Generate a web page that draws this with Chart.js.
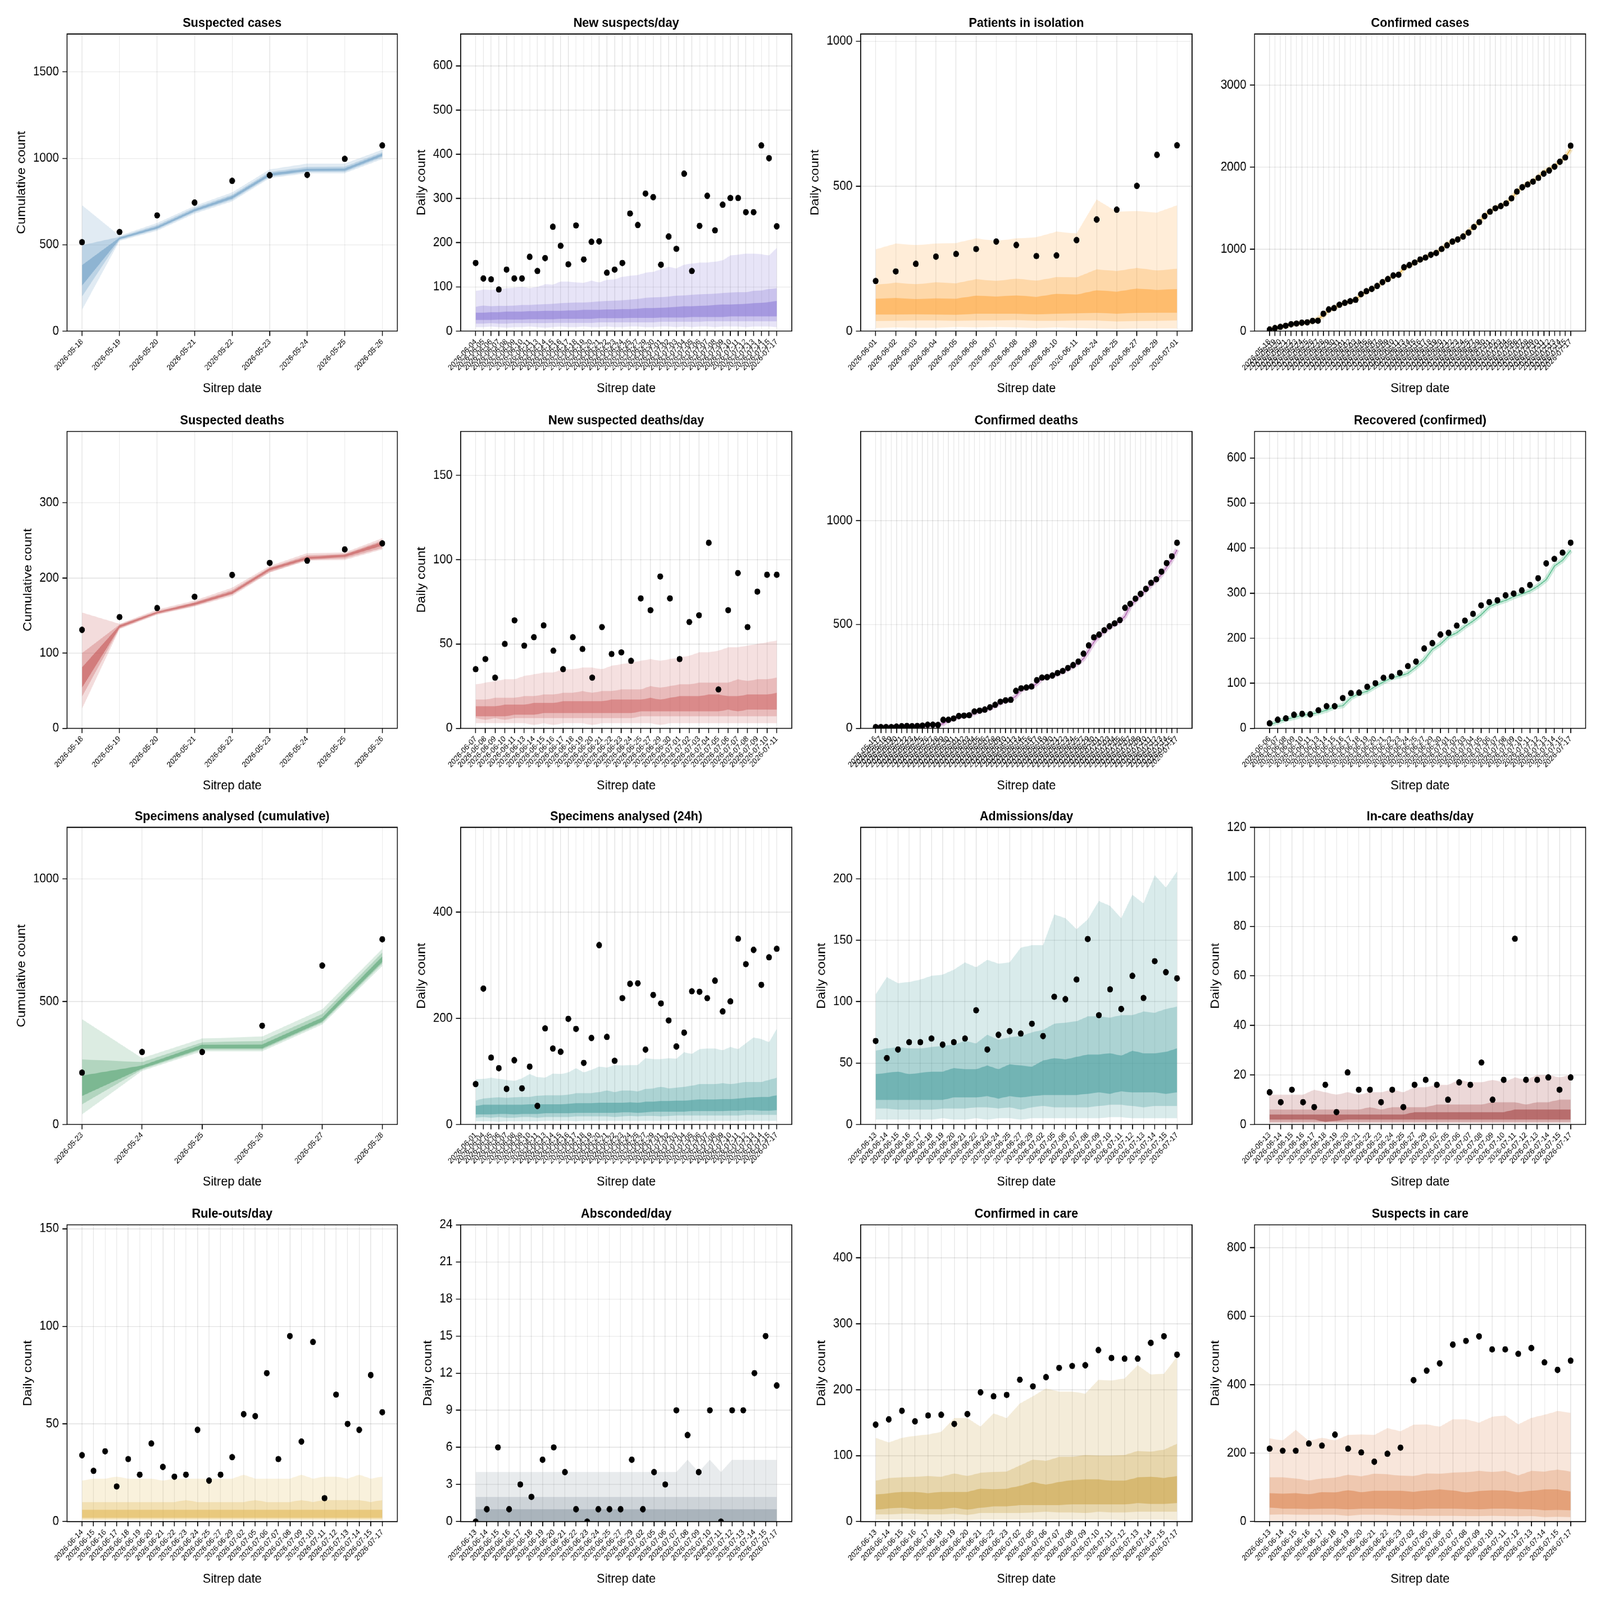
<!DOCTYPE html>
<html>
<head>
<meta charset="utf-8">
<script src="https://cdn.jsdelivr.net/npm/chart.js@4.4.1/dist/chart.umd.min.js"></script>
<style>
  html, body { margin: 0; padding: 0; background: #fff; overflow: hidden; }
  #grid { position: absolute; left: 0; top: 0; width: 5520px; height: 5040px; transform-origin: 0 0; }
  #grid canvas { position: absolute; }
</style>
</head>
<body>
<div id="grid"></div>
<script>
// ---- categories ----
const datesP1 = ["2026-05-18","2026-05-19","2026-05-20","2026-05-21","2026-05-22","2026-05-23","2026-05-24","2026-05-25","2026-05-26"];
const datesP2 = ["2026-06-04","2026-06-05","2026-06-06","2026-06-07","2026-06-08","2026-06-09","2026-06-10","2026-06-11","2026-06-13","2026-06-14","2026-06-15","2026-06-16","2026-06-17","2026-06-18","2026-06-19","2026-06-20","2026-06-21","2026-06-22","2026-06-23","2026-06-24","2026-06-25","2026-06-27","2026-06-29","2026-06-30","2026-07-01","2026-07-02","2026-07-03","2026-07-04","2026-07-05","2026-07-06","2026-07-07","2026-07-08","2026-07-09","2026-07-10","2026-07-11","2026-07-12","2026-07-13","2026-07-14","2026-07-15","2026-07-17"];
const datesP3 = ["2026-06-01","2026-06-02","2026-06-03","2026-06-04","2026-06-05","2026-06-06","2026-06-07","2026-06-08","2026-06-09","2026-06-10","2026-06-11","2026-06-24","2026-06-25","2026-06-27","2026-06-29","2026-07-01"];
const datesP4 = ["2026-05-18","2026-05-19","2026-05-20","2026-05-21","2026-05-22","2026-05-23","2026-05-24","2026-05-25","2026-05-26","2026-05-27","2026-05-28","2026-05-29","2026-05-30","2026-05-31","2026-06-01","2026-06-02","2026-06-03","2026-06-04","2026-06-05","2026-06-06","2026-06-07","2026-06-08","2026-06-09","2026-06-10","2026-06-11","2026-06-13","2026-06-14","2026-06-15","2026-06-16","2026-06-17","2026-06-18","2026-06-19","2026-06-20","2026-06-21","2026-06-22","2026-06-23","2026-06-24","2026-06-25","2026-06-27","2026-06-29","2026-06-30","2026-07-01","2026-07-02","2026-07-03","2026-07-04","2026-07-05","2026-07-06","2026-07-07","2026-07-08","2026-07-09","2026-07-10","2026-07-11","2026-07-12","2026-07-13","2026-07-14","2026-07-15","2026-07-17"];
const datesP6 = ["2026-06-07","2026-06-08","2026-06-09","2026-06-10","2026-06-11","2026-06-13","2026-06-14","2026-06-15","2026-06-16","2026-06-17","2026-06-18","2026-06-19","2026-06-20","2026-06-21","2026-06-22","2026-06-23","2026-06-24","2026-06-25","2026-06-27","2026-06-29","2026-06-30","2026-07-01","2026-07-02","2026-07-03","2026-07-04","2026-07-05","2026-07-06","2026-07-07","2026-07-08","2026-07-09","2026-07-10","2026-07-11"];
const datesP7 = ["2026-05-16","2026-05-17","2026-05-18","2026-05-19","2026-05-20","2026-05-21","2026-05-22","2026-05-23","2026-05-24","2026-05-25","2026-05-26","2026-05-27","2026-05-28","2026-05-29","2026-05-30","2026-05-31","2026-06-01","2026-06-02","2026-06-03","2026-06-04","2026-06-05","2026-06-06","2026-06-07","2026-06-08","2026-06-09","2026-06-10","2026-06-11","2026-06-13","2026-06-14","2026-06-15","2026-06-16","2026-06-17","2026-06-18","2026-06-19","2026-06-20","2026-06-21","2026-06-22","2026-06-23","2026-06-24","2026-06-25","2026-06-27","2026-06-29","2026-06-30","2026-07-01","2026-07-02","2026-07-03","2026-07-04","2026-07-05","2026-07-06","2026-07-07","2026-07-08","2026-07-09","2026-07-10","2026-07-11","2026-07-12","2026-07-13","2026-07-14","2026-07-15","2026-07-17"];
const datesP8 = ["2026-06-06","2026-06-07","2026-06-08","2026-06-09","2026-06-10","2026-06-11","2026-06-13","2026-06-14","2026-06-15","2026-06-16","2026-06-17","2026-06-18","2026-06-19","2026-06-20","2026-06-21","2026-06-22","2026-06-23","2026-06-24","2026-06-25","2026-06-27","2026-06-29","2026-06-30","2026-07-01","2026-07-02","2026-07-03","2026-07-04","2026-07-05","2026-07-06","2026-07-07","2026-07-08","2026-07-09","2026-07-10","2026-07-11","2026-07-12","2026-07-13","2026-07-14","2026-07-15","2026-07-17"];
const datesP9 = ["2026-05-23","2026-05-24","2026-05-25","2026-05-26","2026-05-27","2026-05-28"];
const datesP10 = ["2026-06-01","2026-06-04","2026-06-05","2026-06-06","2026-06-07","2026-06-08","2026-06-09","2026-06-10","2026-06-11","2026-06-13","2026-06-14","2026-06-15","2026-06-16","2026-06-17","2026-06-18","2026-06-19","2026-06-20","2026-06-21","2026-06-22","2026-06-23","2026-06-24","2026-06-25","2026-06-27","2026-06-29","2026-07-01","2026-07-02","2026-07-03","2026-07-04","2026-07-05","2026-07-06","2026-07-07","2026-07-08","2026-07-09","2026-07-10","2026-07-11","2026-07-12","2026-07-13","2026-07-14","2026-07-15","2026-07-17"];
const datesCare = ["2026-06-13","2026-06-14","2026-06-15","2026-06-16","2026-06-17","2026-06-18","2026-06-19","2026-06-20","2026-06-21","2026-06-22","2026-06-23","2026-06-24","2026-06-25","2026-06-27","2026-06-29","2026-07-02","2026-07-05","2026-07-06","2026-07-07","2026-07-08","2026-07-09","2026-07-10","2026-07-11","2026-07-12","2026-07-13","2026-07-14","2026-07-15","2026-07-17"];
const datesRuleOut = ["2026-06-14","2026-06-15","2026-06-16","2026-06-17","2026-06-18","2026-06-19","2026-06-20","2026-06-21","2026-06-22","2026-06-23","2026-06-24","2026-06-25","2026-06-27","2026-06-29","2026-07-02","2026-07-05","2026-07-06","2026-07-07","2026-07-08","2026-07-09","2026-07-10","2026-07-11","2026-07-12","2026-07-13","2026-07-14","2026-07-15","2026-07-17"];
const datesInCare = ["2026-06-13","2026-06-14","2026-06-15","2026-06-16","2026-06-17","2026-06-18","2026-06-19","2026-06-20","2026-06-21","2026-06-22","2026-06-23","2026-07-02","2026-07-05","2026-07-06","2026-07-07","2026-07-08","2026-07-09","2026-07-10","2026-07-11","2026-07-12","2026-07-13","2026-07-14","2026-07-15","2026-07-17"];

// ---- y tick labels ----
const ticksP1 = [0, 500, 1000, 1500];
const ticksP2 = [0, 100, 200, 300, 400, 500, 600];
const ticksP3 = [0, 500, 1000];
const ticksP4 = [0, 1000, 2000, 3000];
const ticksP5 = [0, 100, 200, 300];
const ticksP6 = [0, 50, 100, 150];
const ticksP7 = [0, 500, 1000];
const ticksP8 = [0, 100, 200, 300, 400, 500, 600];
const ticksP9 = [0, 500, 1000];
const ticksP10 = [0, 200, 400];
const ticksP11 = [0, 50, 100, 150, 200];
const ticksP12 = [0, 20, 40, 60, 80, 100, 120];
const ticksP13 = [0, 50, 100, 150];
const ticksP14 = [0, 3, 6, 9, 12, 15, 18, 21, 24];
const ticksP15 = [0, 100, 200, 300, 400];
const ticksP16 = [0, 200, 400, 600, 800];

// ---- Suspected cases ----
const p1Obs = [515, 574, 670, 744, 870, 902, 904, 997, 1075];
const p1Lo1 = [123, 522, 581, 680, 751, 885, 914, 914, 996];
const p1Hi1 = [729, 552, 626, 725, 803, 936, 970, 970, 1050];
const p1Lo2 = [200, 528, 589, 688, 760, 893, 922, 922, 1006];
const p1Hi2 = [497, 546, 614, 714, 790, 922, 950, 952, 1036];
const p1Lo3 = [263, 532, 594, 694, 767, 899, 927, 928, 1014];
const p1Hi3 = [382, 542, 606, 706, 782, 913, 940, 942, 1028];

// ---- New suspects/day ----
const p2Obs = [154,119,117,94,139,119,119,168,136,165,236,193,151,239,162,202,203,132,139,154,266,240,311,303,150,214,186,356,136,238,306,228,286,301,301,269,269,420,391,237];
const p2Hi1 = [91,94,93,95,97,98,100,97,100,106,105,112,112,110,109,114,110,116,117,123,125,127,132,134,140,145,142,150,153,155,155,157,160,171,173,175,175,174,171,188];
const p2Lo1 = [9,9,10,9,8,9,9,10,9,8,9,10,9,9,10,9,9,10,9,9,10,10,9,9,10,10,9,10,9,10,10,9,10,10,10,9,10,10,10,9];
const p2Hi2 = [55,58,56,57,57,58,59,59,60,61,62,63,64,65,65,66,67,68,69,70,71,73,75,76,77,78,80,81,82,83,84,85,86,87,88,88,91,92,95,97];
const p2Lo2 = [17,17,18,17,17,18,18,18,18,18,19,19,19,19,19,19,20,20,20,20,20,20,20,20,21,21,21,21,21,21,22,22,22,22,22,22,22,22,22,22];
const p2Hi3 = [42,42,43,43,44,44,44,45,45,46,46,46,47,47,48,48,48,49,49,50,50,51,52,52,53,54,55,56,56,57,58,59,60,60,61,62,63,64,66,68];
const p2Lo3 = [25,25,25,26,26,26,26,27,27,27,27,28,28,28,28,28,29,29,29,29,30,30,30,30,31,31,31,31,32,32,32,32,32,33,33,33,33,33,33,33];

// ---- Patients in isolation ----
const p3Obs = [173,206,232,257,266,283,309,297,259,261,314,385,419,501,608,641];
const p3Hi1 = [282,302,297,302,304,320,311,320,324,343,337,454,412,414,409,434];
const p3Lo1 = [11,13,12,12,14,13,14,13,11,13,11,9,8,9,9,9];
const p3Hi2 = [160,167,162,168,165,179,173,181,174,186,185,213,207,218,209,215];
const p3Lo2 = [35,36,37,37,36,37,37,38,36,36,37,37,33,35,36,37];
const p3Hi3 = [112,114,111,113,112,122,119,123,118,129,126,141,136,147,142,145];
const p3Lo3 = [57,57,58,57,56,60,60,60,58,60,61,63,60,63,64,64];

// ---- Confirmed cases ----
const p4Obs = [19,37,52,66,84,92,103,107,125,127,212,264,281,322,345,365,382,451,487,515,551,597,635,678,687,779,805,837,873,897,931,953,1002,1047,1092,1118,1154,1202,1270,1330,1403,1457,1498,1526,1558,1620,1702,1755,1788,1824,1869,1921,1959,2006,2066,2118,2262];
const p4Mid = [19,35,50,64,80,90,100,106,118,150,190,255,280,318,342,362,380,440,480,512,548,595,632,672,690,770,800,832,868,900,935,955,1000,1060,1090,1115,1160,1215,1275,1330,1410,1460,1505,1530,1560,1620,1700,1760,1800,1830,1880,1940,1975,2010,2070,2120,2220];

// ---- Suspected deaths ----
const p5Obs = [131,148,160,175,204,220,223,238,246];
const p5Lo1 = [26,132,151,162,176,207,223,224,238];
const p5Hi1 = [154,139,158,170,187,216,233,234,253];
const p5Lo2 = [42,133,152,163,178,208,224,226,240];
const p5Hi2 = [100,138,156,168,184,214,230,232,250];
const p5Lo3 = [54,134,153,164,179,210,225,228,243];
const p5Hi3 = [81,137,155,167,182,213,228,231,248];

// ---- New suspected deaths/day ----
const p6Obs = [35,41,30,50,64,49,54,61,46,35,54,47,30,60,44,45,40,77,70,90,77,41,63,67,110,23,70,92,60,81,91,91];
const p6Hi1 = [26,27,28,29,29,31,32,33,33,35,35,36,36,35,37,38,39,40,41,40,41,42,43,45,45,46,48,48,49,50,51,52];
const p6Lo1 = [3,3,3,3,3,3,2,3,2,3,3,3,2,3,3,3,3,3,3,2,3,3,3,3,3,3,3,3,3,3,3,3];
const p6Hi2 = [17,17,18,18,18,19,19,20,20,21,21,22,21,22,22,23,23,23,25,24,25,26,26,27,27,27,27,29,28,29,29,30];
const p6Lo2 = [6,5,6,5,6,6,6,6,6,6,6,6,6,6,6,6,6,7,7,7,7,7,7,7,7,7,7,7,7,7,7,7];
const p6Hi3 = [13,13,13,14,14,14,15,15,15,16,16,16,16,16,17,17,17,17,18,17,18,19,19,19,20,20,19,19,20,20,20,21];
const p6Lo3 = [7,7,7,7,8,8,8,9,9,9,9,9,9,9,9,9,9,10,10,10,10,10,10,10,10,10,11,10,11,11,11,11];

// ---- Confirmed deaths ----
const p7Obs = [6,6,6,6,8,10,11,10,11,13,17,17,16,41,41,47,59,61,63,81,85,90,101,113,128,134,137,180,192,196,201,231,244,246,254,266,276,290,304,321,359,399,438,451,472,491,505,521,580,599,624,647,671,700,717,754,795,828,893];
const p7Mid = [5,6,6,6,7,9,10,10,11,12,15,17,17,22,40,45,55,60,63,72,83,88,96,108,122,132,137,155,185,194,199,215,240,246,252,262,272,285,298,314,335,375,415,445,465,485,500,515,540,590,615,640,664,690,712,740,775,812,860];

// ---- Recovered (confirmed) ----
const p8Obs = [11,19,22,30,32,31,40,49,49,67,78,79,92,100,112,115,123,138,148,177,189,208,212,228,239,254,273,280,284,295,299,306,318,333,366,376,390,412];
const p8Mid = [8,14,20,24,29,31,35,40,48,50,68,77,82,93,103,112,116,122,136,152,175,187,204,212,226,238,252,270,278,284,292,298,305,316,330,360,373,395];

// ---- Specimens analysed (cumulative) ----
const p9Obs = [211, 295, 295, 402, 647, 754];
const p9Lo1 = [41, 218, 298, 298, 407, 645];
const p9Hi1 = [429, 270, 350, 358, 469, 715];
const p9Lo2 = [82, 224, 305, 305, 414, 655];
const p9Hi2 = [265, 254, 334, 340, 450, 700];
const p9Lo3 = [116, 228, 310, 310, 419, 662];
const p9Hi3 = [199, 240, 325, 326, 435, 684];

// ---- Specimens analysed (24h) ----
const p10Obs = [76,256,126,106,67,121,68,109,35,181,143,137,199,180,116,163,338,165,120,238,265,266,141,244,228,196,147,173,251,250,238,271,213,232,350,302,329,263,315,331];
const p10Hi1 = [85,86,88,86,84,82,87,95,89,88,96,95,98,106,98,103,109,107,112,111,112,112,125,123,123,125,124,136,133,142,143,143,140,146,142,153,164,161,155,180];
const p10Lo1 = [6,6,6,5,6,6,6,6,6,7,7,7,7,6,7,7,7,7,7,7,7,7,7,7,7,7,7,7,7,7,7,7,7,7,7,7,7,7,7,7];
const p10Hi2 = [45,49,50,51,50,51,52,52,54,55,55,55,56,59,59,59,61,64,61,64,64,62,67,68,71,68,69,71,73,76,76,76,78,76,78,80,80,80,84,88];
const p10Lo2 = [13,14,13,14,13,13,14,14,13,14,14,14,14,15,15,15,15,15,14,15,16,15,16,16,15,16,17,17,17,17,17,17,17,17,17,18,18,18,18,18];
const p10Hi3 = [35,37,37,37,37,37,37,38,38,38,38,38,39,40,40,40,41,41,41,41,42,41,43,43,44,44,45,45,46,47,47,47,48,48,49,50,51,52,52,55];
const p10Lo3 = [19,19,19,20,20,19,20,20,20,21,21,21,21,22,22,22,22,22,22,23,23,22,23,24,24,24,24,24,25,25,25,25,25,26,26,27,27,26,26,27];

// ---- Admissions/day ----
const p11Obs = [68,54,61,67,67,70,65,67,70,93,61,73,76,74,82,72,104,102,118,151,89,110,94,121,103,133,124,119];
const p11Hi1 = [106,120,115,116,118,121,122,126,132,128,134,131,132,144,146,146,171,168,159,167,182,178,168,187,180,203,193,206];
const p11Lo1 = [4,4,4,4,4,4,5,4,4,5,4,5,5,4,5,5,5,5,5,5,5,6,6,5,5,5,5,5];
const p11Hi2 = [60,62,63,62,62,63,64,65,68,66,73,69,71,72,75,77,82,83,84,88,88,87,89,89,92,91,94,96];
const p11Lo2 = [13,13,12,12,12,12,13,13,13,14,14,13,14,12,14,15,14,14,14,14,15,16,16,15,14,15,15,15];
const p11Hi3 = [41,42,43,41,42,43,43,46,45,45,48,45,49,48,47,52,54,53,55,57,57,58,56,60,58,58,59,62];
const p11Lo3 = [20,20,20,20,20,20,20,22,22,22,23,21,23,22,23,24,24,24,24,25,26,25,27,26,26,26,25,26];

// ---- In-care deaths/day ----
const p12Obs = [13,9,14,9,7,16,5,21,14,14,9,14,7,16,18,16,10,17,16,25,10,18,75,18,18,19,14,19];
const p12Hi1 = [12,12,12,12,14,13,12,13,12,13,13,14,13,15,15,16,16,18,17,17,18,17,19,18,20,20,19,20];
const p12Lo1 = [0.5,0.5,0.5,0.5,0.5,0.5,0.5,0.5,0.5,0.5,0.5,0.5,0.5,0.5,0.5,0.5,0.5,0.5,0.5,0.5,0.5,0.5,0.5,0.5,0.5,0.5,0.5,0.5];
const p12Hi2 = [6,6,6,6,6,6,6,6,6,7,6,7,7,7,7,8,8,8,8,8,9,9,9,8,9,9,10,10];
const p12Lo2 = [1,1,1,1,1,1,1,1,1,1,1,1,1,1,1,1,1,1,1,1,1,1,1,1,1,1,1,1];
const p12Hi3 = [4,4,4,4,4,4,4,4,4,4,4,4,4,5,5,5,5,5,5,5,5,5,6,6,6,6,6,6];
const p12Lo3 = [2,2,2,2,2,1,1.5,2,2,2,2,2,2,2,2,2,2,2,2,2,2,2,2,2,2,2,2,2];

// ---- Rule-outs/day ----
const p13Obs = [34,26,36,18,32,24,40,28,23,24,47,21,24,33,55,54,76,32,95,41,92,12,65,50,47,75,56];
const p13Hi1 = [21,22,22,23,22,22,22,21,22,22,22,22,22,22,24,22,22,22,22,24,22,23,23,22,24,22,23];
const p13Lo1 = [0.7,0.7,0.7,0.7,0.7,0.7,0.7,0.7,0.7,0.7,0.7,0.7,0.7,0.7,0.7,0.7,0.7,0.7,0.7,0.7,0.7,0.7,0.7,0.7,0.7,0.7,0.7];
const p13Hi2 = [10,10,10,10,10,10,10,10,10,11,10,10,10,10,10,11,10,10,10,11,10,11,11,11,11,10,11];
const p13Lo2 = [1.3,1.3,1.3,1.3,1.3,1.3,1.3,1.3,1.3,1.3,1.3,1.3,1.3,1.3,1.3,1.3,1.3,1.3,1.3,1.3,1.3,1.3,1.3,1.3,1.3,1.3,1.3];
const p13Hi3 = [6,6,6,6,6,6,6,6,6,6,6,6,6,6,6,6,6,6,6,6,6,6,6,6,6,6,6];
const p13Lo3 = [2,2,2,2,2,2,2,2,2,2,2,2,2,2,2,2,2,2,2,2,2,2,2,2,2,2,2];

// ---- Absconded/day ----
const p14Obs = [0,1,6,1,3,2,5,6,4,1,0,1,1,1,5,1,4,3,9,7,4,9,0,9,9,12,15,11];
const p14Hi1 = [4,4,4,4,4,4,4,4,4,4,4,4,4,4,4,4,4,4,4,5,4,5,4,5,5,5,5,5];
const p14Lo1 = [0,0,0,0,0,0,0,0,0,0,0,0,0,0,0,0,0,0,0,0,0,0,0,0,0,0,0,0];
const p14Hi2 = [2,2,2,2,2,2,2,2,2,2,2,2,2,2,2,2,2,2,2,2,2,2,2,2,2,2,2,2];
const p14Lo2 = [0,0,0,0,0,0,0,0,0,0,0,0,0,0,0,0,0,0,0,0,0,0,0,0,0,0,0,0];
const p14Hi3 = [1,1,1,1,1,1,1,1,1,1,1,1,1,1,1,1,1,1,1,1,1,1,1,1,1,1,1,1];
const p14Lo3 = [0,0,0,0,0,0,0,0,0,0,0,0,0,0,0,0,0,0,0,0,0,0,0,0,0,0,0,0];

// ---- Confirmed in care ----
const p15Obs = [147,155,168,152,161,162,148,163,196,190,192,215,205,219,233,236,237,260,248,247,247,271,281,253];
const p15Hi1 = [127,120,127,130,132,136,157,157,144,164,157,179,190,202,197,197,194,215,214,217,237,223,224,250];
const p15Lo1 = [3,3,3,3,2,2,3,2,3,3,3,3,3,3,3,3,3,3,3,2,3,3,3,2];
const p15Hi2 = [62,66,67,68,69,68,73,69,74,75,76,85,94,92,98,98,101,100,100,101,107,106,109,118];
const p15Lo2 = [11,11,12,12,11,11,12,10,13,13,13,13,14,15,14,14,13,15,14,14,15,15,15,15];
const p15Hi3 = [41,43,45,45,43,45,45,45,50,49,50,54,60,56,60,63,64,64,62,62,67,68,66,69];
const p15Lo3 = [18,20,21,19,19,19,21,18,21,23,23,25,25,25,25,26,26,26,26,26,28,27,27,28];

// ---- Suspects in care ----
const p16Obs = [213,207,207,228,222,254,213,202,175,198,216,413,441,462,517,528,541,503,503,490,507,465,443,470];
const p16Hi1 = [243,237,268,236,245,237,253,255,253,273,264,283,284,277,299,299,289,306,310,284,303,312,323,318];
const p16Lo1 = [3,3,3,2,2,2,2,2,2,2,2,2,2,2,2,2,2,2,2,2,2,2,2,2];
const p16Hi2 = [129,129,126,120,126,128,137,132,140,138,134,133,141,140,143,144,148,145,148,135,148,146,152,146];
const p16Lo2 = [20,21,20,20,20,20,17,20,20,19,18,18,17,17,17,16,16,17,16,15,16,13,14,13];
const p16Hi3 = [83,82,83,80,86,85,92,86,90,90,90,87,91,94,91,85,89,92,91,86,90,94,94,88];
const p16Lo3 = [41,38,38,37,38,38,36,38,38,38,37,36,38,38,38,37,36,38,38,37,36,33,34,33];

// ---- layout (reference pixels) ----
const PAGE_W = 5520;
const PAGE_H = 5040;
const CELL_W = 1380;
const CELL_H = 1260;
const PLOT_LEFT = [231, 1589, 2969, 4328];
const PLOT_RIGHT = [1373, 2731, 4112, 5470];
const PLOT_TOP = [107, 1359, 2606, 3858];
const PLOT_BOTTOM = [1043, 2294, 3542, 4793];
const BAND_ALPHA = [0.2, 0.3, 0.55];
const FONT = "'Liberation Sans', Arial, Helvetica, sans-serif";
const GRID = "rgba(0,0,0,0.12)";

const panels = [
  { title: "Suspected cases", yTitle: "Cumulative count", dates: datesP1, obs: p1Obs, bands: [[p1Lo1, p1Hi1], [p1Lo2, p1Hi2], [p1Lo3, p1Hi3]], rgb: [104, 154, 195], yMax: 1720, yTicks: ticksP1 },
  { title: "New suspects/day", yTitle: "Daily count", dates: datesP2, obs: p2Obs, bands: [[p2Lo1, p2Hi1], [p2Lo2, p2Hi2], [p2Lo3, p2Hi3]], rgb: [136, 118, 213], yMax: 672, yTicks: ticksP2 },
  { title: "Patients in isolation", yTitle: "Daily count", dates: datesP3, obs: p3Obs, bands: [[p3Lo1, p3Hi1], [p3Lo2, p3Hi2], [p3Lo3, p3Hi3]], rgb: [253, 166, 59], yMax: 1025, yTicks: ticksP3 },
  { title: "Confirmed cases", yTitle: "", dates: datesP4, obs: p4Obs, mid: p4Mid, rgb: [225, 170, 50], yMax: 3625, yTicks: ticksP4 },
  { title: "Suspected deaths", yTitle: "Cumulative count", dates: datesP1, obs: p5Obs, bands: [[p5Lo1, p5Hi1], [p5Lo2, p5Hi2], [p5Lo3, p5Hi3]], rgb: [195, 80, 80], yMax: 395, yTicks: ticksP5 },
  { title: "New suspected deaths/day", yTitle: "Daily count", dates: datesP6, obs: p6Obs, bands: [[p6Lo1, p6Hi1], [p6Lo2, p6Hi2], [p6Lo3, p6Hi3]], rgb: [205, 98, 98], yMax: 176, yTicks: ticksP6 },
  { title: "Confirmed deaths", yTitle: "", dates: datesP7, obs: p7Obs, mid: p7Mid, rgb: [170, 85, 170], yMax: 1429, yTicks: ticksP7 },
  { title: "Recovered (confirmed)", yTitle: "", dates: datesP8, obs: p8Obs, mid: p8Mid, rgb: [80, 185, 135], yMax: 659, yTicks: ticksP8 },
  { title: "Specimens analysed (cumulative)", yTitle: "Cumulative count", dates: datesP9, obs: p9Obs, bands: [[p9Lo1, p9Hi1], [p9Lo2, p9Hi2], [p9Lo3, p9Hi3]], rgb: [80, 160, 110], yMax: 1210, yTicks: ticksP9 },
  { title: "Specimens analysed (24h)", yTitle: "Daily count", dates: datesP10, obs: p10Obs, bands: [[p10Lo1, p10Hi1], [p10Lo2, p10Hi2], [p10Lo3, p10Hi3]], rgb: [65, 155, 155], yMax: 560, yTicks: ticksP10 },
  { title: "Admissions/day", yTitle: "Daily count", dates: datesCare, obs: p11Obs, bands: [[p11Lo1, p11Hi1], [p11Lo2, p11Hi2], [p11Lo3, p11Hi3]], rgb: [65, 155, 155], yMax: 242, yTicks: ticksP11 },
  { title: "In-care deaths/day", yTitle: "Daily count", dates: datesCare, obs: p12Obs, bands: [[p12Lo1, p12Hi1], [p12Lo2, p12Hi2], [p12Lo3, p12Hi3]], rgb: [160, 60, 60], yMax: 120, yTicks: ticksP12 },
  { title: "Rule-outs/day", yTitle: "Daily count", dates: datesRuleOut, obs: p13Obs, bands: [[p13Lo1, p13Hi1], [p13Lo2, p13Hi2], [p13Lo3, p13Hi3]], rgb: [225, 183, 82], yMax: 152, yTicks: ticksP13 },
  { title: "Absconded/day", yTitle: "Daily count", dates: datesCare, obs: p14Obs, bands: [[p14Lo1, p14Hi1], [p14Lo2, p14Hi2], [p14Lo3, p14Hi3]], rgb: [142, 154, 166], yMax: 24, yTicks: ticksP14 },
  { title: "Confirmed in care", yTitle: "Daily count", dates: datesInCare, obs: p15Obs, bands: [[p15Lo1, p15Hi1], [p15Lo2, p15Hi2], [p15Lo3, p15Hi3]], rgb: [202, 161, 66], yMax: 450, yTicks: ticksP15 },
  { title: "Suspects in care", yTitle: "Daily count", dates: datesInCare, obs: p16Obs, bands: [[p16Lo1, p16Hi1], [p16Lo2, p16Hi2], [p16Lo3, p16Hi3]], rgb: [219, 130, 76], yMax: 867, yTicks: ticksP16 },
];

function rgba(rgb, alpha) {
  return `rgba(${rgb[0]},${rgb[1]},${rgb[2]},${alpha})`;
}

Chart.defaults.color = "#000";
Chart.defaults.font.family = FONT;

// stretch the 5520x5040 layout over the whole viewport
const grid = document.querySelector("#grid");
const scaleX = window.innerWidth / PAGE_W;
const scaleY = window.innerHeight / PAGE_H;
grid.style.transform = `scale(${scaleX}, ${scaleY})`;
const pixelRatio = Math.max(0.5, Math.max(scaleX, scaleY) * (window.devicePixelRatio || 1));

// title, axis titles and the box around the plot area
const panelDecor = {
  id: "panelDecor",
  afterDraw(chart, args, opts) {
    const { ctx, chartArea } = chart;
    const cx = (chartArea.left + chartArea.right) / 2;
    ctx.save();
    ctx.strokeStyle = "#000";
    ctx.lineWidth = 3;
    ctx.strokeRect(chartArea.left, chartArea.top, chartArea.right - chartArea.left, chartArea.bottom - chartArea.top);

    ctx.fillStyle = "#000";
    ctx.textAlign = "center";
    ctx.textBaseline = "middle";
    ctx.font = `bold 42px ${FONT}`;
    ctx.fillText(opts.title, cx, chartArea.top - 34);

    ctx.font = `42px ${FONT}`;
    ctx.fillText("Sitrep date", cx, chartArea.bottom + 181);

    if (opts.yTitle) {
      ctx.font = `40px ${FONT}`;
      const widest = Math.max(...chart.scales.y.ticks.map((t) => ctx.measureText(String(t.label)).width));
      const x = chartArea.left - 16 - 12 - widest - 40;
      ctx.translate(x, (chartArea.top + chartArea.bottom) / 2);
      ctx.rotate(-Math.PI / 2);
      ctx.font = `42px ${FONT}`;
      ctx.fillText(opts.yTitle, 0, 0);
    }
    ctx.restore();
  },
};

function renderPanel(panel, index) {
  const col = index % 4;
  const row = Math.floor(index / 4);
  const cellX = col * CELL_W;
  const cellY = row * CELL_H;

  const canvas = document.createElement("canvas");
  canvas.style.left = `${cellX}px`;
  canvas.style.top = `${cellY}px`;
  canvas.style.width = `${CELL_W}px`;
  canvas.style.height = `${CELL_H}px`;
  canvas.width = CELL_W;
  canvas.height = CELL_H;
  grid.appendChild(canvas);

  const leftWidth = PLOT_LEFT[col] - cellX;
  const rightPad = cellX + CELL_W - PLOT_RIGHT[col];
  const topPad = PLOT_TOP[row] - cellY;
  const bottomHeight = cellY + CELL_H - PLOT_BOTTOM[row];

  const n = panel.dates.length;
  const positions = panel.dates.map((d, i) => i);

  const datasets = [
    { data: panel.obs, showLine: false, pointRadius: 10, pointBackgroundColor: "#000", pointBorderWidth: 0, fill: false },
  ];
  if (panel.mid) {
    datasets.push({ data: panel.mid, borderColor: rgba(panel.rgb, 0.9), borderWidth: 3, pointRadius: 0, fill: false });
    datasets.push({ data: panel.mid, borderColor: rgba(panel.rgb, 0.28), borderWidth: 16, pointRadius: 0, fill: false });
  }
  (panel.bands || []).forEach(([lo, hi], k) => {
    datasets.push({ data: lo, borderWidth: 0, borderColor: "transparent", pointRadius: 0, fill: false });
    datasets.push({ data: hi, borderWidth: 0, borderColor: "transparent", pointRadius: 0, fill: "-1", backgroundColor: rgba(panel.rgb, BAND_ALPHA[k]) });
  });

  new Chart(canvas, {
    type: "line",
    data: { labels: positions, datasets },
    options: {
      responsive: false,
      animation: false,
      devicePixelRatio: pixelRatio,
      layout: { padding: { top: topPad, right: rightPad, left: 0, bottom: 0 } },
      elements: { line: { tension: 0 } },
      plugins: {
        legend: { display: false },
        tooltip: { enabled: false },
        panelDecor: { title: panel.title, yTitle: panel.yTitle },
      },
      scales: {
        x: {
          type: "linear",
          min: -0.05 * (n - 1),
          max: (n - 1) * 1.05,
          afterBuildTicks: (scale) => {
            scale.ticks = positions.map((v) => ({ value: v }));
          },
          afterFit: (scale) => {
            scale.height = bottomHeight;
          },
          ticks: {
            autoSkip: false,
            minRotation: 45,
            maxRotation: 45,
            padding: 4,
            font: { size: 25 },
            callback: (value) => panel.dates[value],
          },
          grid: { color: GRID, lineWidth: 2, tickColor: "#000", tickLength: 15, tickWidth: 3 },
          border: { display: false },
        },
        y: {
          min: 0,
          max: panel.yMax,
          afterBuildTicks: (scale) => {
            scale.ticks = panel.yTicks.map((v) => ({ value: v }));
          },
          afterFit: (scale) => {
            scale.width = leftWidth;
          },
          ticks: { autoSkip: false, padding: 12, font: { size: 40 }, callback: (value) => String(value) },
          grid: { color: GRID, lineWidth: 2, tickColor: "#000", tickLength: 16, tickWidth: 3 },
          border: { display: false },
        },
      },
    },
    plugins: [panelDecor],
  });
}

panels.forEach(renderPanel);
</script>
</body>
</html>
